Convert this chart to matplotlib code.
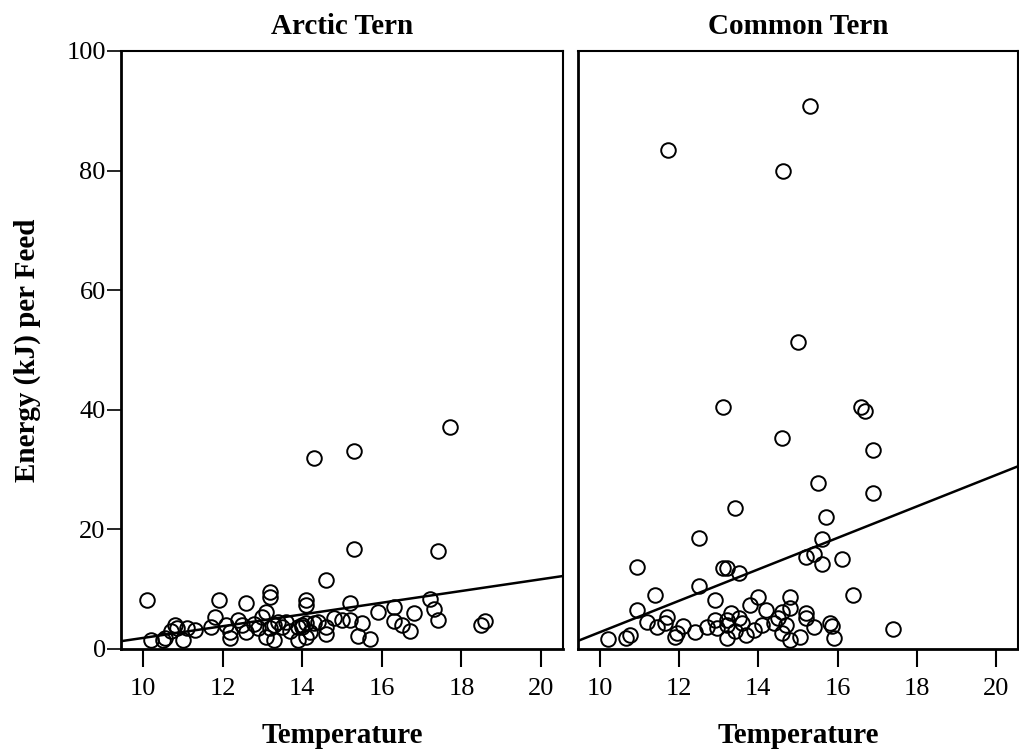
import matplotlib
matplotlib.use("Agg")
import matplotlib.pyplot as plt
import numpy as np

plt.rcParams['font.family'] = ['Liberation Serif', 'DejaVu Serif']

panels = ["Arctic Tern", "Common Tern"]

# Arctic Tern: temperature, energy per feed
arctic_x = [10.1, 14.3, 15.3, 17.7, 15.3, 17.4, 14.6, 11.9, 12.6, 13.2, 13.2, 14.1, 14.1,
            15.2, 15.9, 16.3, 16.8, 16.3, 16.5, 16.7, 17.2, 17.3, 17.4, 18.5, 18.6, 15.4,
            15.7, 15.5, 15.2, 15.0, 14.8, 14.6, 14.6, 14.3, 14.0, 14.1, 14.4, 11.8, 10.8,
            10.85, 10.2, 10.5, 10.55, 11.0, 11.3, 11.1, 11.7, 12.2, 12.2, 12.1, 12.6, 12.5,
            12.9, 13.0, 13.1, 13.1, 13.3, 13.5, 13.6, 13.9, 13.9, 14.1, 14.2, 12.4, 13.4,
            13.2, 10.7, 13.7, 14.0, 13.3, 12.8]
arctic_y = [8.2, 31.9, 33.1, 37.1, 16.7, 16.4, 11.5, 8.2, 7.7, 9.5, 8.7, 8.2, 7.4,
            7.7, 6.2, 7.0, 6.0, 4.7, 4.0, 3.0, 8.4, 6.7, 4.8, 4.0, 4.7, 2.2,
            1.7, 4.3, 4.8, 4.8, 5.2, 2.5, 3.7, 4.3, 3.7, 2.0, 4.5, 5.4, 4.0,
            3.5, 1.5, 1.5, 1.8, 1.5, 3.2, 3.5, 3.7, 1.8, 2.8, 4.0, 2.8, 4.0,
            3.5, 5.4, 6.2, 2.0, 1.5, 3.7, 4.5, 1.5, 3.7, 4.3, 2.8, 4.8, 4.5,
            3.5, 3.0, 3.0, 4.0, 4.0, 4.2]

# Common Tern
common_x = [15.3, 11.73, 14.62, 15.0, 13.1, 16.6, 16.7, 14.6, 16.9, 15.5, 16.9, 13.4, 15.7,
            12.5, 15.6, 16.1, 15.4, 15.2, 15.6, 10.95, 13.1, 13.2, 13.5, 11.4, 12.5, 12.9,
            10.95, 10.2, 10.65, 10.75, 11.2, 11.45, 11.7, 11.65, 11.9, 11.95, 12.1, 12.4,
            12.7, 12.9, 12.95, 13.2, 13.2, 16.4, 14.0, 14.8, 14.8, 14.2, 13.8, 15.2, 15.2,
            14.6, 15.8, 15.4, 15.9, 15.05, 14.8, 14.6, 14.4, 14.1, 13.9, 13.6, 13.5, 13.3,
            13.2, 14.7, 14.5, 17.4, 15.85, 13.4, 13.7]
common_y = [90.8, 83.4, 79.9, 51.3, 40.5, 40.5, 39.8, 35.3, 33.3, 27.8, 26.1, 23.6, 22.1,
            18.6, 18.4, 15.0, 15.8, 15.4, 14.2, 13.7, 13.5, 13.5, 12.7, 9.0, 10.5, 8.2,
            6.5, 1.7, 1.8, 2.3, 4.5, 3.7, 5.4, 4.3, 2.0, 2.7, 3.8, 2.8,
            3.7, 4.8, 3.5, 4.8, 1.8, 9.0, 8.7, 8.7, 6.9, 6.5, 7.4, 6.0, 5.2,
            6.2, 4.3, 3.7, 1.8, 2.0, 1.5, 2.7, 4.3, 4.0, 3.2, 4.3, 5.2, 6.0,
            4.0, 4.0, 5.2, 3.3, 3.8, 3.0, 2.4]

# fit lines (intercept, slope)
arctic_fit = (-7.98, 0.982)
common_fit = (-23.5, 2.63)

xticks = [10, 12, 14, 16, 18, 20]
yticks = [0, 20, 40, 60, 80, 100]
xlim = (9.45, 20.55)

fig = plt.figure(figsize=(10.19, 7.54), dpi=100)
ax1 = fig.add_axes([0.1187, 0.1393, 0.4338, 0.7931])
ax2 = fig.add_axes([0.5672, 0.1393, 0.4318, 0.7931])

data = [(ax1, arctic_x, arctic_y, arctic_fit), (ax2, common_x, common_y, common_fit)]
for (ax, xs, ys, fit), name in zip(data, panels):
    ax.plot(xs, ys, 'o', mfc='none', mec='black', mew=1.4, ms=10.5, clip_on=False)
    lx = np.array(xlim)
    ax.plot(lx, fit[0] + fit[1] * lx, color='black', lw=1.8)
    ax.set_xlim(*xlim)
    ax.set_ylim(0, 100)
    ax.set_xticks(xticks)
    ax.set_yticks(yticks)
    ax.tick_params(axis='x', direction='out', length=13, width=1.5, pad=8, labelsize=19)
    ax.tick_params(axis='y', direction='out', length=10, width=1.2, pad=1, labelsize=19)
    for s in ax.spines.values():
        s.set_linewidth(1.5)
    ax.spines['bottom'].set_linewidth(2)
    ax.spines['left'].set_linewidth(2)
    ax.set_title(name, fontsize=21, fontweight='bold', pad=12)
    ax.set_xlabel("Temperature", fontsize=21, fontweight='bold', labelpad=16)

ax2.tick_params(axis='y', left=False, labelleft=False)
ax1.set_ylabel("Energy (kJ) per Feed", fontsize=21, fontweight='bold', labelpad=18)

fig.savefig("out.png", dpi=100)
